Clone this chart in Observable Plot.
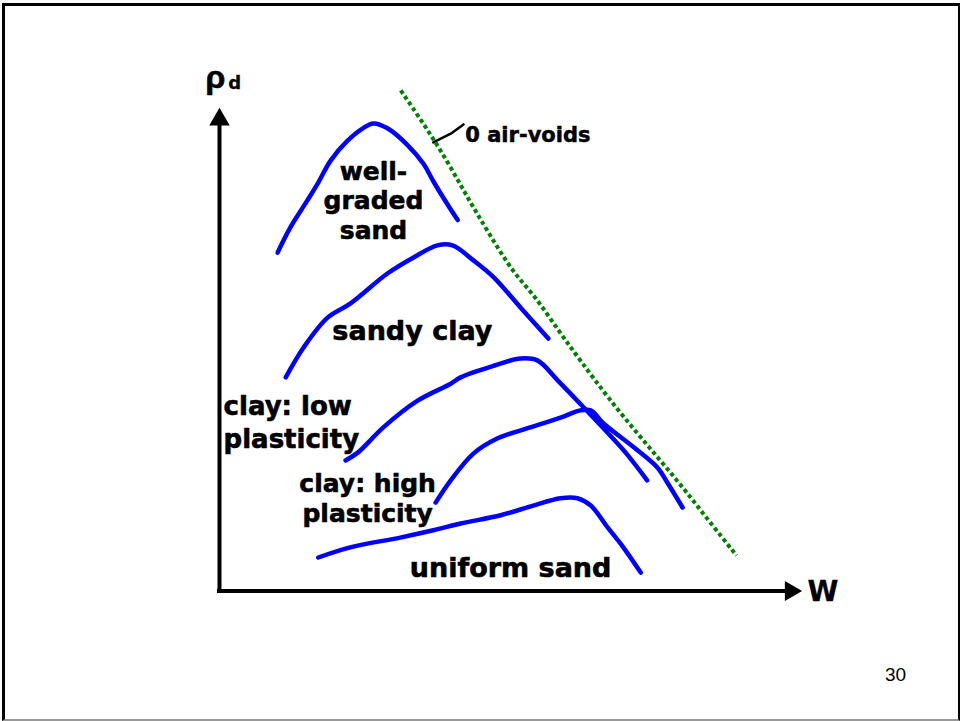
<!DOCTYPE html>
<html>
<head>
<meta charset="utf-8">
<script src="https://cdn.jsdelivr.net/npm/d3@7"></script>
<script src="https://cdn.jsdelivr.net/npm/@observablehq/plot@0.6"></script>
<style>
  html, body { margin: 0; padding: 0; background: #fff; width: 960px; height: 721px; overflow: hidden; }
  #frame { position: absolute; left: 2px; top: 3px; width: 953px; height: 713px;
           border-top: 3px solid #000; border-left: 3px solid #000; border-right: 2px solid #000;
           border-bottom: 2px solid #999; pointer-events: none; }
  #page { position: absolute; left: 885px; top: 664px; font: 19px "Liberation Sans", Arial, sans-serif; color: #000; }
  #chart { position: absolute; left: 0; top: 0; }
</style>
</head>
<body>
<div id="chart"></div>
<div id="frame"></div>
<div id="page">30</div>
<script>
// Water content w (relative units) and dry density rho_d (relative units)
const wellGradedW = [10.0, 12.2, 15.1, 16.9, 19.1, 22.0, 24.8, 26.5, 28.9, 32.4, 35.1, 36.8, 39.2, 41.0];
const wellGradedD = [69.7, 74.9, 80.4, 83.9, 88.6, 92.7, 95.4, 96.3, 95.3, 91.8, 88.0, 84.4, 79.7, 76.4];

const sandyClayW = [11.4, 14.5, 18.6, 22.5, 28.9, 33.4, 37.5, 40.1, 43.7, 47.2, 51.8, 56.6];
const sandyClayD = [44.0, 50.2, 56.3, 59.2, 65.4, 68.7, 71.2, 71.2, 68.1, 64.6, 58.4, 52.0];

const clayLowW = [21.7, 23.8, 28.2, 34.1, 39.8, 41.5, 47.2, 51.8, 54.7, 58.2, 62.7, 66.4, 69.9, 73.6];
const clayLowD = [26.9, 28.5, 33.7, 39.2, 42.7, 44.0, 46.4, 47.9, 47.5, 43.4, 37.8, 33.1, 28.5, 22.8];

const clayHighW = [37.2, 39.8, 43.7, 47.8, 53.5, 58.7, 62.1, 63.9, 66.1, 71.3, 75.4, 77.1, 79.7];
const clayHighD = [18.2, 22.8, 28.3, 31.4, 33.7, 35.7, 37.2, 37.2, 34.5, 29.6, 25.4, 22.3, 17.2];

const uniformSandW = [17.0, 22.5, 31.1, 36.8, 41.5, 48.4, 54.0, 58.7, 61.6, 63.9, 66.8, 69.5, 72.5];
const uniformSandD = [6.9, 9.0, 11.0, 12.5, 13.9, 15.6, 17.6, 19.1, 19.1, 17.6, 13.1, 9.0, 3.8];

const zeroAirW = [31.2, 35.1, 39.2, 42.7, 46.1, 50.6, 54.0, 58.7, 62.1, 66.8, 72.5, 78.8, 83.8, 89.0];
const zeroAirD = [103.1, 96.3, 88.6, 81.0, 74.2, 65.4, 61.3, 53.0, 47.5, 39.9, 31.6, 22.8, 15.1, 7.3];

const leaderW = [36.8, 39.8, 42.0];
const leaderD = [92.4, 94.2, 96.1];

// Axis extents (arrow heads at the ends)
const axisXEnd = 98.3;
const axisYEnd = 97.1;

// Annotation texts and their anchor points (last-line baseline) in data units
const wellGradedLabel = [{text: "well-\ngraded\nsand", w: 26.5, d: 72.6}];
const sandyClayLabel = [{text: "sandy clay", w: 33.2, d: 51.6}];
const clayLowLabel = [{text: "clay: low\nplasticity", w: 0.7, d: 29.4}];
const clayHighLabel = [{text: "clay: high\nplasticity", w: 25.5, d: 14.3}];
const uniformSandLabel = [{text: "uniform sand", w: 50.1, d: 2.8}];
const airLabel = [{text: "0 air-voids", w: 42.3, d: 92.4}];
const axisLabelX = [{text: "W", w: 101.2, d: -2.0}];
const axisLabelY = [{text: "ρ", w: -2.4, d: 103.7}];
const axisLabelYSub = [{text: "d", w: 1.5, d: 103.5}];

const toPts = (W, D) => W.map((w, i) => ({w, d: D[i]}));
const curves = [
  toPts(wellGradedW, wellGradedD),
  toPts(sandyClayW, sandyClayD),
  toPts(clayLowW, clayLowD),
  toPts(clayHighW, clayHighD),
  toPts(uniformSandW, uniformSandD)
];

const blue = "#0000ff";
const green = "#008000";
const font = "'DejaVu Sans', 'Liberation Sans', Arial, sans-serif";
const labelStyle = {x: "w", y: "d", text: "text", lineAnchor: "bottom", fontSize: 27, fontWeight: "bold",
  fill: "#000", stroke: "#000", strokeWidth: 0.6, fontFamily: font};

const chart = Plot.plot({
  width: 960,
  height: 721,
  marginLeft: 219,
  marginRight: 160,
  marginTop: 105,
  marginBottom: 130.5,
  x: {domain: [0, 100], axis: null},
  y: {domain: [0, 100], axis: null},
  style: {fontFamily: font, background: "transparent", overflow: "visible"},
  marks: [
    // axes
    Plot.ruleX([0], {y1: 0, y2: axisYEnd, stroke: "#000", strokeWidth: 4}),
    Plot.ruleY([0], {x1: -0.35, x2: axisXEnd, stroke: "#000", strokeWidth: 4}),
    Plot.dot([{w: 0, d: axisYEnd}], {x: "w", y: "d", symbol: "triangle", r: 7.6, fill: "#000", stroke: null}),
    Plot.dot([{w: axisXEnd, d: 0}], {x: "w", y: "d", symbol: "triangle", r: 7.4, fill: "#000", stroke: null, rotate: 90}),
    // zero air voids line
    Plot.line(toPts(zeroAirW, zeroAirD), {x: "w", y: "d", stroke: green, strokeWidth: 4, strokeDasharray: "4,3", strokeLinecap: "butt", curve: "basis"}),
    Plot.line(toPts(leaderW, leaderD), {x: "w", y: "d", stroke: "#000", strokeWidth: 2.5}),
    // compaction curves
    ...curves.map(c => Plot.line(c, {x: "w", y: "d", stroke: blue, strokeWidth: 4.5, curve: "catmull-rom", strokeLinecap: "round"})),
    // labels
    Plot.text(wellGradedLabel, {...labelStyle, fontSize: 25, textAnchor: "middle", lineHeight: 1.18}),
    Plot.text(sandyClayLabel, {...labelStyle, textAnchor: "middle"}),
    Plot.text(clayLowLabel, {...labelStyle, fontSize: 26, textAnchor: "start", lineHeight: 1.27}),
    Plot.text(clayHighLabel, {...labelStyle, fontSize: 25, textAnchor: "middle", lineHeight: 1.18}),
    Plot.text(uniformSandLabel, {...labelStyle, textAnchor: "middle"}),
    Plot.text(airLabel, {...labelStyle, textAnchor: "start", fontSize: 21, strokeWidth: 0.5}),
    Plot.text(axisLabelX, {...labelStyle, textAnchor: "start", fontSize: 28, strokeWidth: 0.3}),
    Plot.text(axisLabelY, {...labelStyle, textAnchor: "start", fontSize: 32, fontFamily: "'Liberation Sans', Arial, sans-serif"}),
    Plot.text(axisLabelYSub, {...labelStyle, textAnchor: "start", fontSize: 18, strokeWidth: 0.3})
  ]
});
document.getElementById("chart").appendChild(chart);
</script>
</body>
</html>
